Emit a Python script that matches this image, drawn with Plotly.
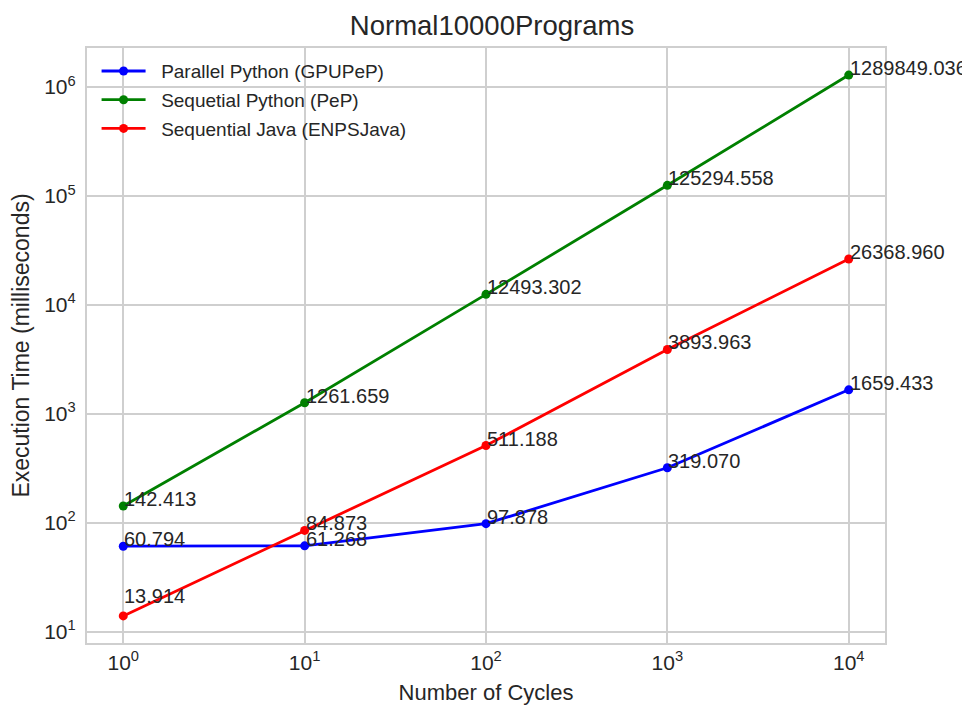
import math
import plotly.graph_objects as go

cycles = [1, 10, 100, 1000, 10000]
parallel_python = [60.794, 61.268, 97.878, 319.070, 1659.433]
sequential_python = [142.413, 1261.659, 12493.302, 125294.558, 1289849.036]
sequential_java = [13.914, 84.873, 511.188, 3893.963, 26368.960]

series = [
    ("Parallel Python (GPUPeP)", parallel_python, "#0000ff"),
    ("Sequetial Python (PeP)", sequential_python, "#008000"),
    ("Sequential Java (ENPSJava)", sequential_java, "#ff0000"),
]

x_tickvals = [1, 10, 100, 1000, 10000]
x_ticktext = ["10<sup>0</sup>", "10<sup>1</sup>", "10<sup>2</sup>", "10<sup>3</sup>", "10<sup>4</sup>"]
y_tickvals = [10, 100, 1000, 10000, 100000, 1000000]
y_ticktext = ["10<sup>1</sup>", "10<sup>2</sup>", "10<sup>3</sup>", "10<sup>4</sup>", "10<sup>5</sup>", "10<sup>6</sup>"]

FONT = "Liberation Sans, Arial, sans-serif"
TXT = "#262626"
NB = "\u00a0\u00a0"

# extra vertical label offset (pixels) for specific (series, point) labels
label_lift = {(2, 0): 13}

fig = go.Figure()
annotations = []
for i, (name, vals, color) in enumerate(series):
    fig.add_trace(go.Scatter(
        x=cycles, y=vals, name=NB + name, mode="lines+markers",
        line=dict(color=color, width=2.8),
        marker=dict(color=color, size=9),
        legendgroup=f"g{i}",
    ))
    for j, (xv, yv) in enumerate(zip(cycles, vals)):
        annotations.append(dict(
            x=math.log10(xv), y=math.log10(yv), xref="x", yref="y",
            text=f"{yv:.3f}", showarrow=False,
            xanchor="left", yanchor="bottom", xshift=-1,
            yshift=-6 + label_lift.get((i, j), 0),
            font=dict(family=FONT, size=20, color=TXT),
        ))

# page body adds an 8px offset; figure is sized to fit the window
fig.update_layout(
    width=968, height=703,
    paper_bgcolor="white", plot_bgcolor="white",
    margin=dict(l=79, r=91, t=40, b=68),
    title=dict(text="Normal10000Programs", x=0.5, xanchor="center", y=0.975, yanchor="middle",
               font=dict(family=FONT, size=27.5, color=TXT)),
    font=dict(family=FONT, color=TXT),
    showlegend=True,
    legend=dict(x=0.012, y=0.993, xanchor="left", yanchor="top",
                bgcolor="rgba(255,255,255,0)", borderwidth=0,
                font=dict(family=FONT, size=19, color=TXT),
                tracegroupgap=1, itemwidth=44),
    annotations=annotations,
)

axis_common = dict(
    type="log", showgrid=True, gridcolor="#cfcfcf", gridwidth=1.8,
    showline=True, linecolor="#cfcfcf", linewidth=2.2, mirror=True,
    ticks="", zeroline=False, automargin=False,
    tickfont=dict(family=FONT, size=21, color=TXT),
)
fig.update_xaxes(**axis_common, range=[-0.2, 4.2], tickvals=x_tickvals, ticktext=x_ticktext,
                 title=dict(text="Number of Cycles", font=dict(family=FONT, size=22, color=TXT), standoff=11))
fig.update_yaxes(**axis_common, range=[0.895, 6.359], tickvals=y_tickvals, ticktext=y_ticktext,
                 ticklabelstandoff=5,
                 title=dict(text="Execution Time (milliseconds)", font=dict(family=FONT, size=23, color=TXT), standoff=16))

fig.write_html("out.html")
